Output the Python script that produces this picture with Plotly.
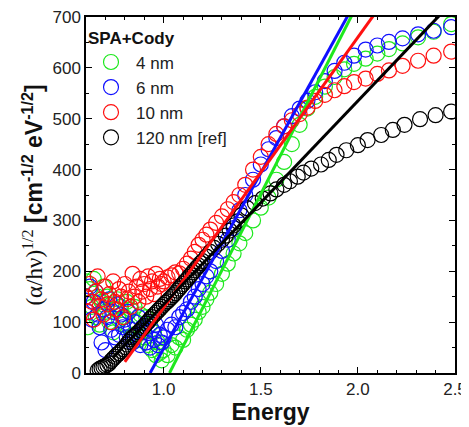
import plotly.graph_objects as go

# ---------------- data ----------------
E_COLOR = [0.60,0.61,0.62,0.63,0.64,0.65,0.66,0.67,0.68,0.69,
           0.70,0.71,0.72,0.73,0.74,0.75,0.76,0.77,0.78,0.79,
           0.80,0.81,0.82,0.83,0.84,0.85,0.86,0.87,0.88,0.89,
           0.90,0.91,0.92,0.93,0.94,0.95,0.96,0.97,0.98,0.99,
           1.00,1.02,1.04,1.06,1.08,1.10,1.12,1.14,1.16,1.18,
           1.20,1.22,1.24,1.27,1.30,1.33,1.36,1.39,
           1.42,1.46,1.50,1.54,1.58,1.62,1.66,1.70,1.74,1.78,
           1.83,1.88,1.93,1.98,2.04,2.10,2.16,2.23,2.31,2.39,2.48]

Y_4NM = [180,90,165,130,185,110,150,95,140,170,
         120,150,100,135,80,125,145,105,130,95,
         110,140,90,125,75,130,100,65,115,85,
         70,110,55,95,45,80,35,60,40,25,
         45,35,55,50,70,65,85,95,105,120,
         130,145,158,175,195,215,235,255,
         275,300,325,345,380,415,450,488,520,543,
         563,582,597,608,618,628,637,648,660,671,686]

Y_6NM = [150,120,170,105,140,160,115,90,60,125,
         45,110,145,85,120,70,135,75,115,90,
         105,70,120,85,60,100,75,110,55,90,
         80,60,100,50,85,65,95,55,75,60,
         70,85,95,90,110,118,125,140,150,165,
         175,190,200,220,240,262,285,320,
         350,380,410,440,462,485,505,520,535,552,
         574,594,610,624,636,644,651,658,666,673,680]

Y_10NM = [150,120,175,140,105,160,190,130,145,115,
          170,135,155,100,180,140,125,165,150,110,
          175,145,160,130,195,150,170,140,185,160,
          175,150,190,165,180,155,195,170,185,175,
          180,188,192,198,196,205,215,225,238,252,
          262,272,282,295,308,322,336,350,
          370,400,425,450,470,485,497,509,522,535,
          547,556,564,572,579,588,595,604,614,624,632]

E_REF = [0.66,0.67,0.68,0.69,0.70,0.71,0.72,0.73,0.74,0.75,
         0.76,0.77,0.78,0.79,0.80,0.81,0.82,0.83,0.84,0.85,
         0.86,0.87,0.88,0.89,0.90,0.91,0.92,0.93,0.94,0.95,
         0.96,0.97,0.98,0.99,1.00,1.01,1.02,1.03,1.04,1.05,
         1.06,1.07,1.08,1.09,1.10,1.11,1.12,1.13,1.14,1.15,
         1.16,1.17,1.18,1.19,1.20,1.22,1.24,1.26,1.28,1.30,
         1.32,1.34,1.36,1.38,1.40,1.43,1.47,1.51,1.55,1.58,
         1.62,1.65,1.69,1.72,1.76,1.81,1.85,1.89,1.94,2.00,
         2.05,2.12,2.18,2.24,2.32,2.40,2.48]

Y_120NM = [5,8,10,12,14,16,19,24,28,32,
           36,39,43,47,51,56,61,66,70,73,
           76,80,84,88,92,97,101,106,110,114,
           118,122,126,130,134,138,141,145,149,153,
           157,162,166,171,175,180,184,189,193,198,
           202,207,211,216,220,229,238,246,254,262,
           270,280,290,298,310,324,334,343,353,361,
           370,377,386,394,402,410,419,429,438,448,
           458,468,478,488,499,507,514]

# linear Cody fits: y = slope * (E - Eg), drawn from E_start to E_end
FIT_NAMES = ["4 nm", "6 nm", "10 nm", "120 nm [ref]"]
FIT_SLOPE = [749, 690, 532, 400]
FIT_EG = [1.03, 0.93, 0.759, 0.6625]
FIT_START = [1.03, 0.93, 0.80, 0.74]
FIT_END = [2.0, 2.0, 2.1, 2.45]

SERIES_NAMES = ["4 nm", "6 nm", "10 nm", "120 nm [ref]"]
COLORS = ["#1ee81e", "#1010ff", "#ff1010", "#000000"]

X_TICKS = [1.0, 1.5, 2.0, 2.5]
Y_TICKS = [0, 100, 200, 300, 400, 500, 600, 700]

# ---------------- figure ----------------
fig = go.Figure()

series_x = [E_COLOR, E_COLOR, E_COLOR, E_REF]
series_y = [Y_4NM, Y_6NM, Y_10NM, Y_120NM]

for name, xs, ys, col in zip(SERIES_NAMES, series_x, series_y, COLORS):
    fig.add_trace(go.Scatter(
        x=xs, y=ys, mode="markers", name=name, legendgroup=name,
        marker=dict(symbol="circle-open", size=15, color=col,
                    line=dict(width=1.2, color=col)),
        cliponaxis=True,
    ))

for name, a, eg, x0, x1, col in zip(FIT_NAMES, FIT_SLOPE, FIT_EG, FIT_START, FIT_END, COLORS):
    xs = [x0, x1]
    ys = [a * (x - eg) for x in xs]
    fig.add_trace(go.Scatter(
        x=xs, y=ys, mode="lines", showlegend=False,
        line=dict(color=col, width=3),
    ))

axis_common = dict(
    showline=True, linecolor="black", linewidth=1.5, mirror="allticks",
    ticks="inside", ticklen=6, tickwidth=1.2, tickcolor="black",
    showgrid=False, zeroline=False, ticklabeloverflow="allow",
    tickfont=dict(family="Liberation Sans, Arial", size=17, color="#222"),
)

fig.update_xaxes(
    range=[0.6, 2.5], tickvals=X_TICKS, ticktext=[f"{v:.1f}" for v in X_TICKS],
    minor=dict(dtick=0.1, tick0=0.6, ticks="inside", ticklen=3.5, tickwidth=1, tickcolor="black"),
    title=dict(text="<b>Energy</b>", font=dict(family="Liberation Sans, Arial", size=23, color="#111"),
               standoff=2),
    **axis_common,
)

ytitle = ('<span style="font-family:Liberation Serif,Times New Roman,serif">(α/hν)'
          '<sup>1/2</sup></span> <b>[cm<sup>-1/2</sup> eV<sup>-1/2</sup>]</b>')
fig.update_yaxes(
    range=[0, 700], tickvals=Y_TICKS,
    minor=dict(dtick=50, tick0=0, ticks="inside", ticklen=3.5, tickwidth=1, tickcolor="black"),
    title=dict(text=ytitle, font=dict(family="Liberation Sans, Arial", size=23, color="#111"),
               standoff=3),
    **axis_common,
)

# the page body keeps an 8 px margin, so the figure is 8 px smaller on each axis
fig.update_layout(
    width=461, height=419,
    margin=dict(l=78, r=14, t=9, b=54, autoexpand=False),
    paper_bgcolor="white", plot_bgcolor="white",
    font=dict(family="Liberation Sans, Arial", color="#111"),
    legend=dict(
        x=0.0, y=0.985, xanchor="left", yanchor="top",
        bgcolor="rgba(0,0,0,0)",
        title=dict(text="<b>SPA+Cody</b>", font=dict(size=17, color="#111")),
        font=dict(family="Liberation Sans, Arial", size=17, color="#222"),
        tracegroupgap=0, itemsizing="trace",
        itemwidth=40,
    ),
)

fig.write_html("out.html")
